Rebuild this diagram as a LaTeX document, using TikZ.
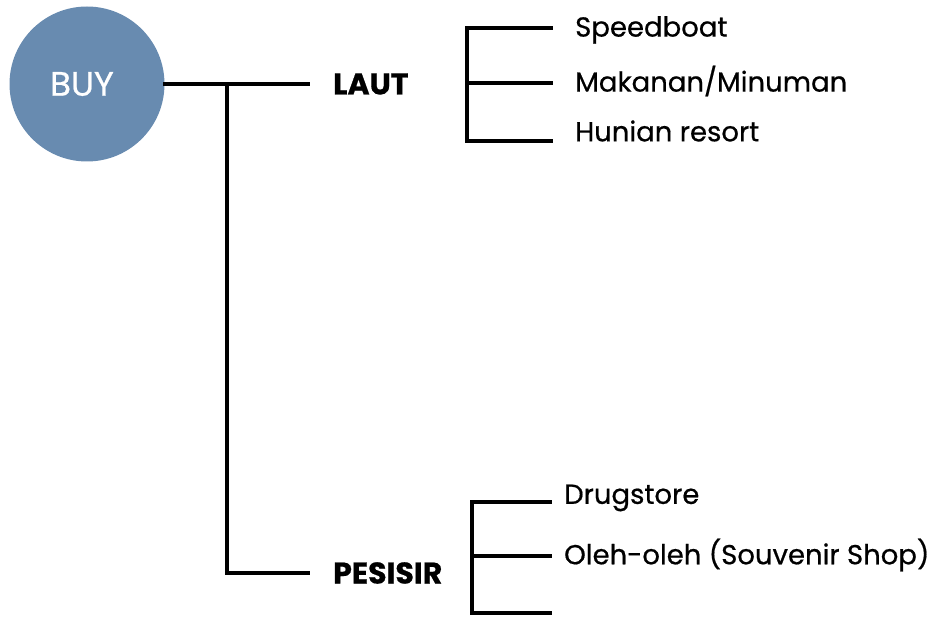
\documentclass[tikz,border=0pt]{standalone}
\usepackage{fontspec}
\setmainfont[FakeBold=0.6]{Poppins}
\definecolor{buyblue}{RGB}{104,139,176}
\usetikzlibrary{positioning, calc}

\begin{document}
\begin{tikzpicture}[
    x=1pt, y=-1pt,
    link/.style={line width=3.2pt, line cap=rect},
    item/.style={anchor=west, inner sep=0pt, font=\fontsize{27.5}{32}\selectfont},
    branch/.style={anchor=west, inner sep=0pt, font=\fontsize{30}{35}\selectfont\bfseries}
]
  \useasboundingbox (0,0) rectangle (937,617);

  % root
  \node[circle, fill=buyblue, minimum size=155pt, inner sep=0pt] (buy) at (87,84) {};
  \node[text=white, font=\fontsize{34}{40}\selectfont] (buylabel) at (82,84) {BUY};

  % branches
  \node[branch] (laut) at (333,84) {LAUT};
  \node[branch] (pesisir) at (333,573) {PESISIR};
  \coordinate (trunk) at (227,84);

  \draw[link] (buy.east) -- ([xshift=-25pt]laut.west);
  \draw[link] (trunk) |- ([xshift=-25pt]pesisir.west);

  % LAUT items
  \node[item] (speedboat) at (575,30) {Speedboat};
  \node[item] (makanan) at (575,81) {Makanan/Minuman};
  \node[item] (hunian) at (575,131) {Hunian resort};

  \coordinate (lautA) at (551,28);
  \coordinate (lautB) at (551,83);
  \coordinate (lautC) at (551,141);
  \coordinate (lautbar) at (467,0);
  \draw[link] (lautA) -- (lautA -| lautbar) -- (lautC -| lautbar) -- (lautC);
  \draw[link] (lautB -| lautbar) -- (lautB);

  % PESISIR items
  \node[item] (drugstore) at (564,498) {Drugstore};
  \node[item] (oleh) at (564,555) {Oleh-oleh (Souvenir Shop)};

  \coordinate (pesA) at (550,502);
  \coordinate (pesB) at (550,556);
  \coordinate (pesC) at (550,613);
  \coordinate (pesbar) at (472,0);
  \draw[link] (pesA) -- (pesA -| pesbar) -- (pesC -| pesbar) -- (pesC);
  \draw[link] (pesB -| pesbar) -- (pesB);
\end{tikzpicture}
\end{document}
